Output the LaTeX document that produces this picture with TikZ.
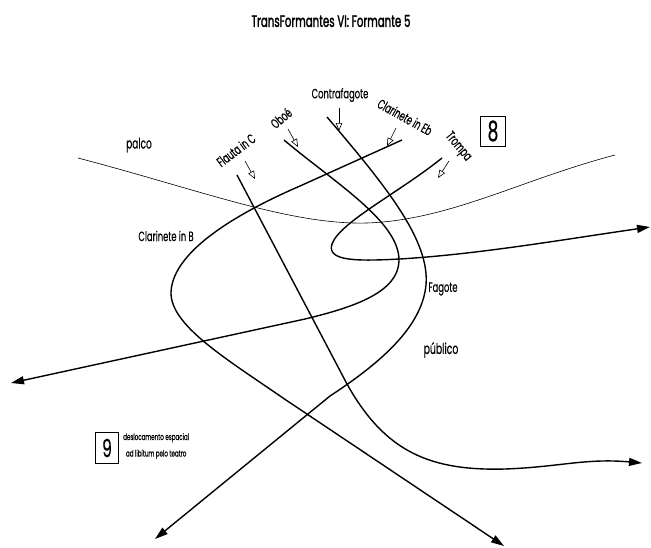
\documentclass[tikz,border=0pt]{standalone}
\usepackage{fontspec}
\setmainfont[FakeStretch=0.62, FakeBold=0.4]{Poppins}
\usetikzlibrary{arrows.meta}

\begin{document}
\begin{tikzpicture}[x=1pt,y=-1pt,
  voice/.style={line width=1.4pt, -{Triangle[length=13pt,width=8pt]}},
  border/.style={line width=0.6pt},
  cue/.style={line width=0.6pt, -{Triangle[open,length=8pt,width=6.5pt]}},
  lbl/.style={inner sep=0pt, font=\fontsize{13.5}{15}\selectfont},
  numbox/.style={draw, line width=0.9pt, inner sep=0pt},
]
\useasboundingbox (0,0) rectangle (651,547);

% title
\node[inner sep=0pt, font=\fontsize{16.5}{18}\selectfont\addfontfeatures{FakeBold=1.6}] (title) at (331,21) {TransFormantes VI: Formante 5};

% stage / audience border
\coordinate (pL) at (78,158);
\coordinate (pM) at (367,223);
\coordinate (pR) at (615,155);
\draw[border] (pL) .. controls (200,190) and (290,225) .. (pM)
                   .. controls (450,220) and (520,180) .. (pR);
\node[lbl, font=\fontsize{14.5}{16}\selectfont] (palco) at (139,145) {palco};
\node[lbl, font=\fontsize{15}{16}\selectfont] (publico) at (441,350) {público};

% instrument labels and entry cues
\node[lbl, rotate=37] (flauta) at (236,150) {Flauta in C};
\node[lbl, rotate=40] (oboe) at (281,118) {Oboé};
\node[lbl] (contra) at (340,95) {Contrafagote};
\node[lbl, rotate=-29] (clareb) at (405,117) {Clarinete in Eb};
\node[lbl, rotate=-50] (trompa) at (458,147) {Trompa};
\node[lbl] (clarb) at (166,236) {Clarinete in B};
\node[lbl] (fagote) at (443,289) {Fagote};

\coordinate (cf1) at (245,161); \coordinate (cf2) at (255,179);
\coordinate (co1) at (288,129); \coordinate (co2) at (298,147);
\coordinate (cc1) at (339,108); \coordinate (cc2) at (339,131);
\coordinate (ce1) at (396,128); \coordinate (ce2) at (387,146);
\coordinate (ct1) at (449,161); \coordinate (ct2) at (438,178);
\draw[cue] (cf1) -- (cf2);
\draw[cue] (co1) -- (co2);
\draw[cue] (cc1) -- (cc2);
\draw[cue] (ce1) -- (ce2);
\draw[cue] (ct1) -- (ct2);

% trajectories
\coordinate (fS) at (237,175);
\coordinate (fE) at (642,463);
\draw[voice] (fS) -- (347,384) .. controls (385,452) and (430,471) .. (505,469)
             .. controls (560,467) and (585,458) .. (fE);

\coordinate (oS) at (284,140);
\coordinate (oE) at (11,383);
\draw[voice] (oS) .. controls (335,183) and (400,222) .. (399,261)
             .. controls (398,292) and (355,307) .. (305,319) -- (oE);

\coordinate (cS) at (327,117);
\coordinate (cE) at (155,539);
\draw[voice] (cS) .. controls (385,185) and (430,240) .. (426,285)
             .. controls (422,325) and (385,360) .. (330,396) -- (cE);

\coordinate (eS) at (402,140);
\coordinate (eE) at (504,546);
\draw[voice] (eS) -- (300,186) .. controls (240,212) and (173,250) .. (171,292)
             .. controls (170,325) and (225,358) .. (283,398) -- (eE);

\coordinate (tS) at (442,158);
\coordinate (tE) at (650,227);
\draw[voice] (tS) .. controls (400,192) and (340,222) .. (332,244)
             .. controls (326,262) and (360,261) .. (400,259)
             .. controls (480,254) and (560,240) .. (tE);

% rehearsal marks
\node[numbox, minimum width=25pt, minimum height=30pt, font=\fontsize{28}{28}\selectfont] (m8) at (493,131) {8};
\node[numbox, minimum width=23pt, minimum height=31pt, font=\fontsize{25}{25}\selectfont] (m9) at (107,448) {9};
\node[lbl, font=\fontsize{9}{16.5}\selectfont, align=center, anchor=west] (note9) at (123,446)
  {deslocamento espacial\\ad libitum pelo teatro};
\end{tikzpicture}
\end{document}
